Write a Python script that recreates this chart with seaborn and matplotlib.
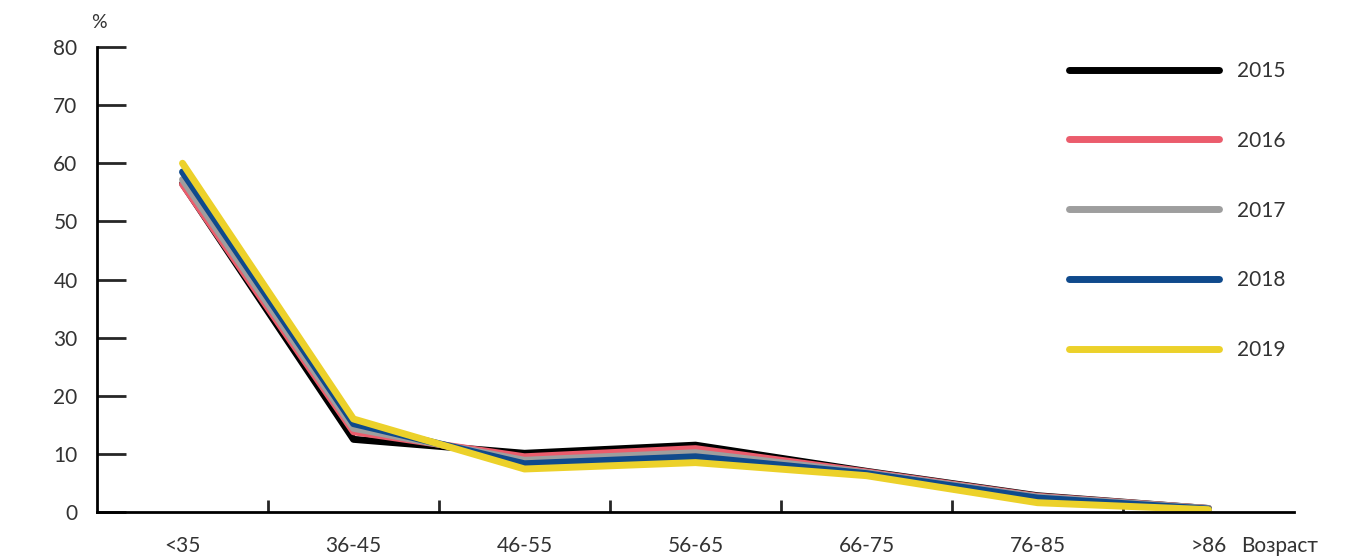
import pandas as pd
import matplotlib
matplotlib.use("Agg")
import matplotlib.pyplot as plt
import seaborn as sns

# age groups and share (%) per year
ages = ['<35', '36-45', '46-55', '56-65', '66-75', '76-85', '>86']
years = ['2015', '2016', '2017', '2018', '2019']
v2015 = [56.5, 12.5, 10.1, 11.5, 7.0, 2.8, 0.6]
v2016 = [56.4, 13.8, 9.5, 10.9, 6.9, 2.7, 0.6]
v2017 = [57.2, 14.4, 8.9, 10.2, 6.75, 2.6, 0.6]
v2018 = [58.5, 15.2, 8.3, 9.5, 6.6, 2.4, 0.5]
v2019 = [60.0, 16.0, 7.4, 8.5, 6.25, 1.6, 0.4]
colors = ['#000000', '#eb5c6c', '#9e9e9e', '#0f4a8c', '#ecd12a']

rows = []
for year, vals in zip(years, [v2015, v2016, v2017, v2018, v2019]):
    for i, v in enumerate(vals):
        rows.append({'pos': i, 'value': v, 'year': year})
df = pd.DataFrame(rows)

sns.set_style('white')
plt.rcParams['font.family'] = ['Lato', 'DejaVu Sans']
plt.rcParams['lines.solid_capstyle'] = 'round'
plt.rcParams['lines.solid_joinstyle'] = 'round'
txt = '#333333'

fig = plt.figure(figsize=(13.58, 5.58), dpi=100)
ax = fig.add_axes([97 / 1358, 1 - 512 / 558, (1294 - 97) / 1358, (512 - 47) / 558])

sns.lineplot(data=df, x='pos', y='value', hue='year', palette=colors,
             linewidth=5, legend=False, ax=ax)

ax.set_xlim(-0.5, 6.5)
ax.set_ylim(0, 80)
ax.set_xlabel('')
ax.set_ylabel('')
for s in ['top', 'right']:
    ax.spines[s].set_visible(False)
for s in ['left', 'bottom']:
    ax.spines[s].set_linewidth(2)
    ax.spines[s].set_color('black')

ax.set_yticks(range(0, 81, 10))
ax.tick_params(axis='y', direction='in', length=21, width=2, pad=14,
               labelsize=15, labelcolor=txt, left=True)
ax.set_xticks(range(len(ages)))
ax.set_xticklabels(ages)
ax.set_xticks([i + 0.5 for i in range(len(ages) - 1)], minor=True)
ax.tick_params(axis='x', which='major', length=0, pad=17, labelsize=15, labelcolor=txt)
ax.tick_params(axis='x', which='minor', direction='in', length=8.6, width=2, bottom=True)

fig.text(99 / 1358, 1 - 22 / 558, '%', ha='center', va='center', fontsize=14, color=txt)
fig.text(1241 / 1358, 1 - 546 / 558, 'Возраст', ha='left', va='center', fontsize=15, color=txt)

ax.legend(handles=ax.lines[:5], labels=years, loc='upper left',
          bbox_to_anchor=(1069 / 1358, 1 - 61 / 558), bbox_transform=fig.transFigure,
          frameon=False, fontsize=15, handlelength=7.2, handletextpad=0.85,
          labelspacing=2.39, borderpad=0, borderaxespad=0, labelcolor=txt)

fig.savefig('out.png', dpi=100)
